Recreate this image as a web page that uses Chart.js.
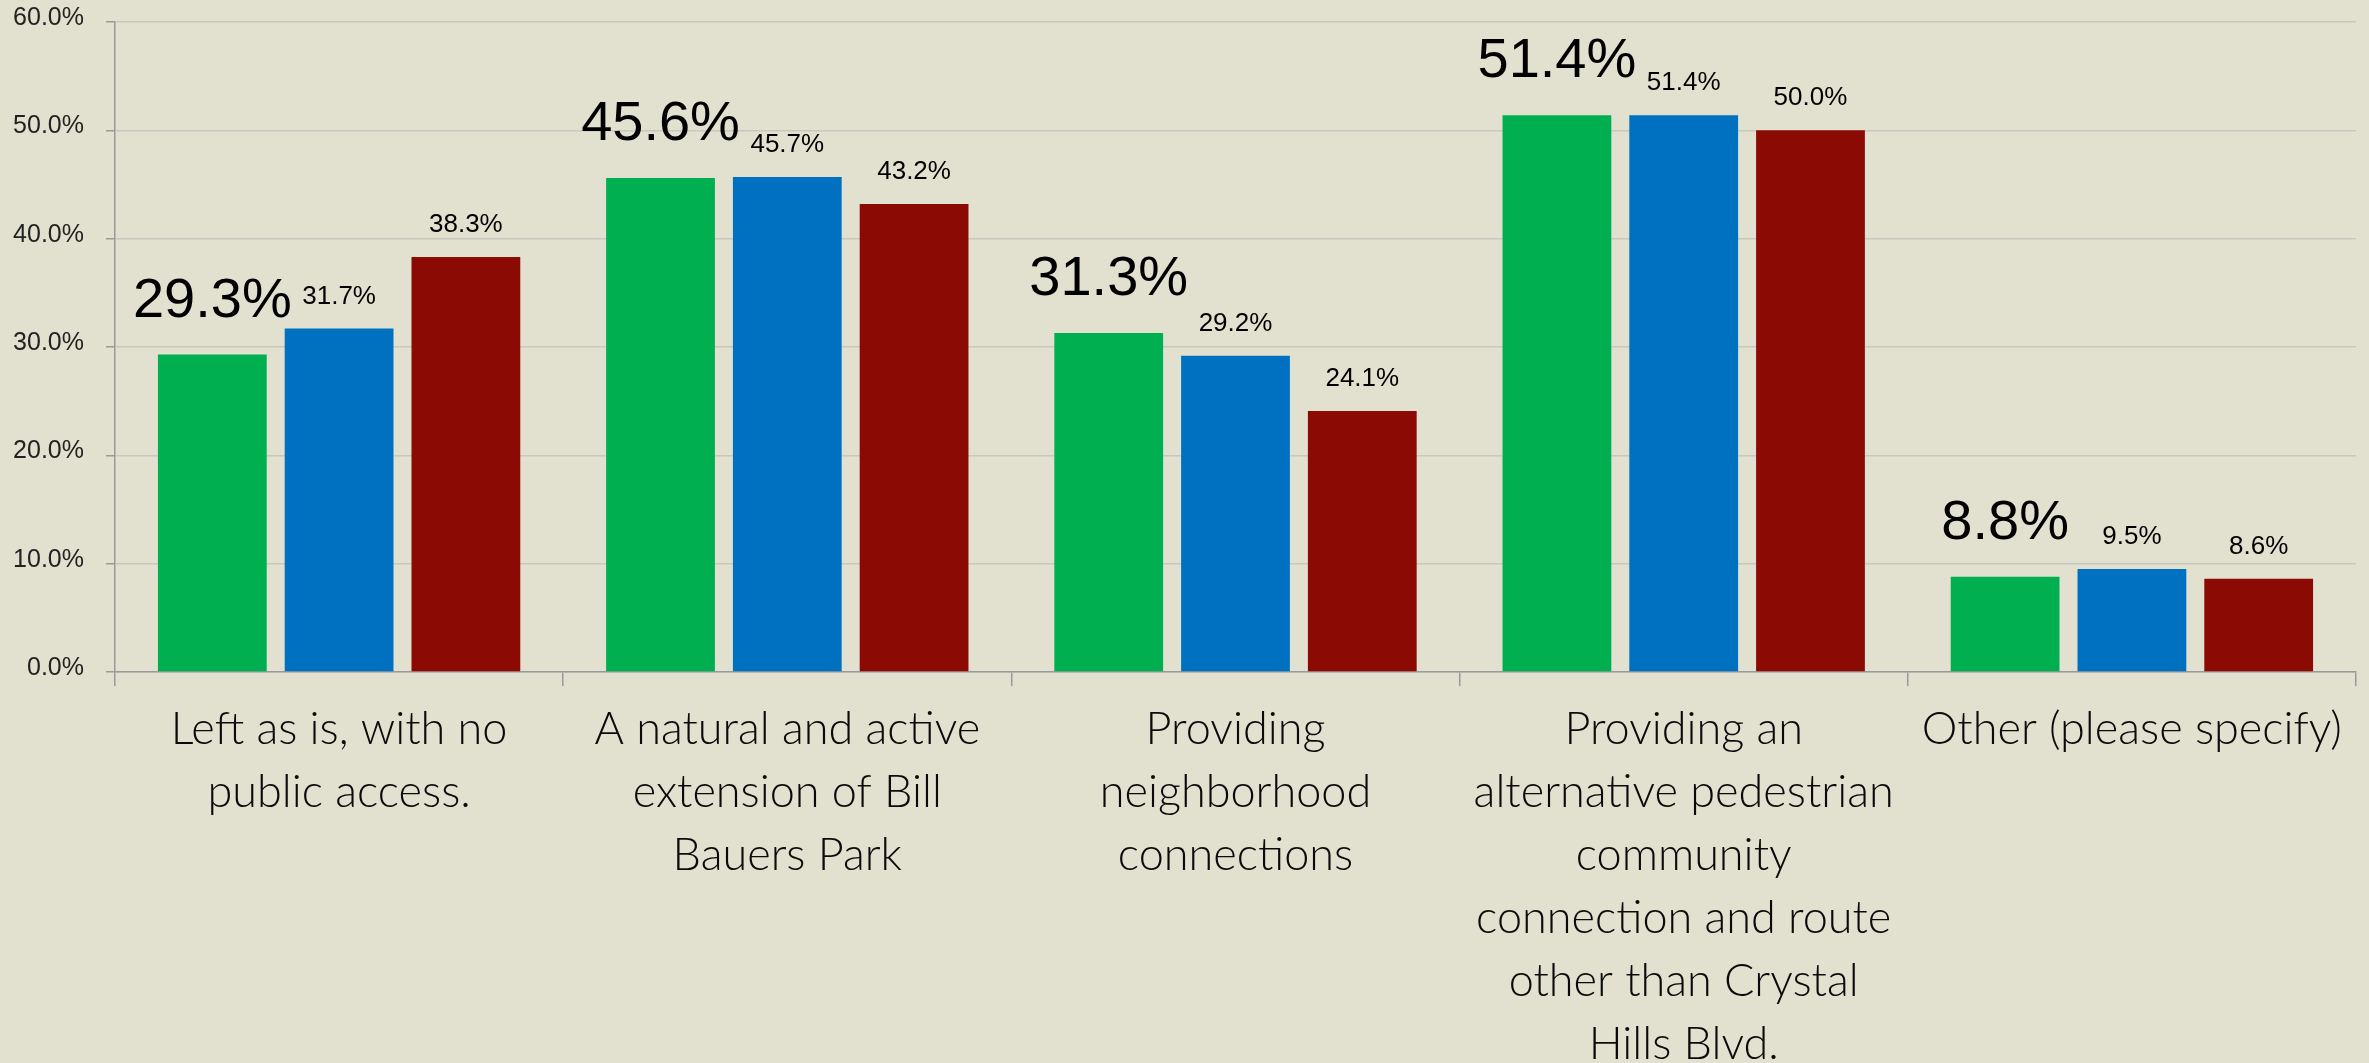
<!DOCTYPE html>
<html>
<head>
<meta charset="utf-8">
<script src="https://cdn.jsdelivr.net/npm/chart.js@4/dist/chart.umd.min.js"></script>
<style>
  html, body { margin: 0; padding: 0; background: #e2e1d0; }
  #wrap { width: 2369px; height: 1063px; }
</style>
</head>
<body>
<div id="wrap"><canvas id="myBarChart" width="2369" height="1063"></canvas></div>
<script>
var categories = [
  ["Left as is, with no", "public access."],
  ["A natural and active", "extension of Bill", "Bauers Park"],
  ["Providing", "neighborhood", "connections"],
  ["Providing an", "alternative pedestrian", "community", "connection and route", "other than Crystal", "Hills Blvd."],
  ["Other (please specify)"]
];
var greenValues = [29.3, 45.6, 31.3, 51.4, 8.8];
var blueValues = [31.7, 45.7, 29.2, 51.4, 9.5];
var redValues = [38.3, 43.2, 24.1, 50.0, 8.6];
var yTicks = [0, 10, 20, 30, 40, 50, 60];

// value labels above every bar, the first series in a larger font
var barLabels = {
  id: 'barLabels',
  afterDatasetsDraw: function (chart) {
    var ctx = chart.ctx;
    ctx.save();
    ctx.fillStyle = '#000';
    ctx.textAlign = 'center';
    ctx.textBaseline = 'alphabetic';
    chart.data.datasets.forEach(function (ds, i) {
      var meta = chart.getDatasetMeta(i);
      var big = i === 0;
      ctx.font = big ? '56px "Liberation Sans", Arial, sans-serif' : '26px "Liberation Sans", Arial, sans-serif';
      meta.data.forEach(function (bar, j) {
        ctx.fillText(ds.data[j].toFixed(1) + '%', bar.x, bar.y - (big ? 38 : 25));
      });
    });
    ctx.restore();
  }
};

var ctx = document.getElementById("myBarChart");
var myBarChart = new Chart(ctx, {
  type: 'bar',
  data: {
    labels: categories,
    datasets: [
      { data: greenValues, backgroundColor: '#00af50' },
      { data: blueValues, backgroundColor: '#0070c0' },
      { data: redValues, backgroundColor: '#8b0a04' }
    ]
  },
  options: {
    responsive: false,
    animation: false,
    layout: { padding: { top: 22, right: 13, left: 0, bottom: 0 } },
    datasets: { bar: { categoryPercentage: 0.8486, barPercentage: 0.858 } },
    plugins: { legend: { display: false }, tooltip: { enabled: false } },
    scales: {
      x: {
        grid: { display: true, drawOnChartArea: false, offset: true, tickLength: 14, color: '#9a9a9a', lineWidth: 1.5 },
        border: { color: '#9a9a9a', width: 1.5 },
        ticks: {
          padding: 12,
          maxRotation: 0,
          autoSkip: false,
          color: '#0a0a0a',
          font: { family: 'Lato', size: 45, weight: 300, lineHeight: '63px' }
        },
        afterFit: function (scale) { scale.height = 391; }
      },
      y: {
        min: yTicks[0],
        max: yTicks[yTicks.length - 1],
        afterBuildTicks: function (scale) {
          scale.ticks = yTicks.map(function (v) { return { value: v }; });
        },
        grid: { color: '#c9c8bf', lineWidth: 1.5, tickLength: 9, tickColor: '#9a9a9a' },
        border: { color: '#9a9a9a', width: 1.5 },
        ticks: {
          padding: 22,
          labelOffset: -4,
          color: '#222',
          font: { family: '"Liberation Sans", Arial, sans-serif', size: 25 },
          callback: function (v) { return Number(v).toFixed(1) + '%'; }
        },
        afterFit: function (scale) {
          scale.width = 115;
          scale.paddingTop = 0;
          scale.paddingBottom = 0;
        }
      }
    }
  },
  plugins: [barLabels]
});
</script>
</body>
</html>
